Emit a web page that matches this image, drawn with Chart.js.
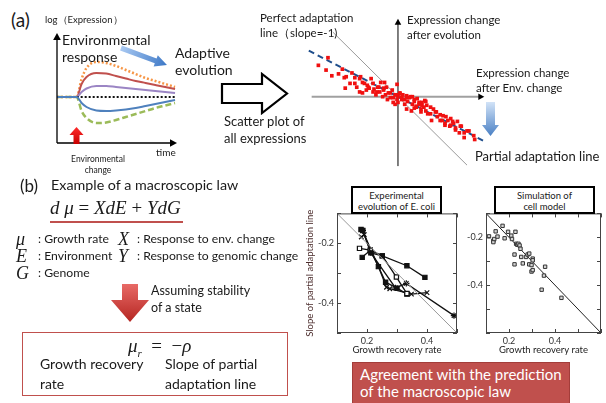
<!DOCTYPE html>
<html>
<head>
<meta charset="utf-8">
<script src="https://cdn.jsdelivr.net/npm/chart.js@4.4.1/dist/chart.umd.min.js"></script>
<style>
  html, body { margin: 0; padding: 0; background: #fff; }
  #page { position: relative; width: 606px; height: 403px; overflow: hidden; font-family: "Lato", "Liberation Sans", sans-serif; color: #1a1a1a; }
  #page canvas { position: absolute; }
  .t { position: absolute; white-space: pre; }
  .m { position: absolute; white-space: pre; font-family: "Liberation Serif", "DejaVu Serif", serif; font-style: italic; }
  .box { position: absolute; background: #fff; border: 2px solid #000; box-sizing: border-box; text-align: center; font-size: 9.5px; line-height: 11px; padding-top: 2px; z-index: 3; }
  svg { position: absolute; left: 0; top: 0; z-index: 2; pointer-events: none; }
</style>
</head>
<body>
<div id="page">
  <canvas id="expr" width="132" height="120" style="left:50px;top:28px"></canvas>
  <canvas id="scatter" width="195" height="162" style="left:300px;top:10px"></canvas>
  <canvas id="ecoli" width="165" height="155" style="left:300px;top:205px"></canvas>
  <canvas id="model" width="146" height="155" style="left:460px;top:205px"></canvas>

  <svg width="606" height="403">
    <defs>
      <linearGradient id="gBlue" x1="0" y1="0" x2="1" y2="0">
        <stop offset="0" stop-color="#a9c9f2"/><stop offset="1" stop-color="#3d78c6"/>
      </linearGradient>
      <linearGradient id="gBlueDown" x1="0" y1="0" x2="0" y2="1">
        <stop offset="0" stop-color="#d2e3f7"/><stop offset="1" stop-color="#4a80c4"/>
      </linearGradient>
      <linearGradient id="gRedUp" x1="0" y1="1" x2="0" y2="0">
        <stop offset="0" stop-color="#c80000"/><stop offset="1" stop-color="#ff2a2a"/>
      </linearGradient>
      <linearGradient id="gRedDown" x1="0" y1="0" x2="0" y2="1">
        <stop offset="0" stop-color="#e86a66"/><stop offset="1" stop-color="#b52622"/>
      </linearGradient>
    </defs>
    <!-- adaptive evolution arrow -->
    <g transform="translate(121,48) rotate(20.3)">
      <polygon points="0,-2.6 37,-2.6 37,-6 49,0 37,6 37,2.6 0,2.6" fill="url(#gBlue)"/>
    </g>
    <!-- environmental change arrow -->
    <polygon points="76.5,127 83.5,135 79.5,135 79.5,144 73.5,144 73.5,135 69.5,135" fill="url(#gRedUp)"/>
    <!-- big outline arrow -->
    <polygon points="222,84 262,84 262,74 287,93.5 262,113 262,103 222,103" fill="#fff" stroke="#000" stroke-width="2.2" stroke-linejoin="miter"/>
    <!-- blue down arrow -->
    <polygon points="486,102 495,102 495,125 499,125 490.5,136 482,125 486,125" fill="url(#gBlueDown)"/>
    <!-- red down arrow -->
    <polygon points="122,284 138,284 138,300 149,300 130,322 111,300 122,300" fill="url(#gRedDown)"/>
  </svg>

  <!-- (a) -->
  <div class="t" style="left:11px;top:8px;font-size:19px">(a)</div>
  <div class="t" style="left:45px;top:14px;font-size:9.5px">log（Expression）</div>
  <div class="t" style="left:62px;top:31px;font-size:14px;line-height:17px">Environmental
response</div>
  <div class="t" style="left:175px;top:44px;font-size:14px;line-height:17px">Adaptive
evolution</div>
  <div class="t" style="left:156px;top:146px;font-size:10px">time</div>
  <div class="t" style="left:62px;top:154px;width:72px;text-align:center;font-size:8.5px;line-height:11px">Environmental
change</div>
  <div class="t" style="left:224px;top:113px;width:66px;text-align:center;font-size:13px;line-height:17px">Scatter plot of
all expressions</div>
  <div class="t" style="left:260px;top:10px;font-size:11.5px;line-height:15px">Perfect adaptation
line（slope=-1)</div>
  <div class="t" style="left:407px;top:12px;font-size:11.5px;line-height:15px">Expression change
after evolution</div>
  <div class="t" style="left:476px;top:65px;font-size:11.5px;line-height:15px">Expression change
after Env. change</div>
  <div class="t" style="left:475px;top:148px;font-size:13px">Partial adaptation line</div>

  <!-- (b) -->
  <div class="t" style="left:20px;top:175px;font-size:17px">(b)</div>
  <div class="t" style="left:51px;top:176px;font-size:14.3px">Example of a macroscopic law</div>
  <div class="m" style="left:50px;top:197px;font-size:19px">d μ <span style="font-style:normal">=</span> XdE <span style="font-style:normal">+</span> YdG</div>
  <div style="position:absolute;left:50px;top:221px;width:133px;height:2px;background:#c0504d"></div>

  <div class="m" style="left:16px;top:229px;font-size:18px">μ</div>
  <div class="t" style="left:38px;top:231px;font-size:12.2px">: Growth rate</div>
  <div class="m" style="left:118px;top:229px;font-size:18px">X</div>
  <div class="t" style="left:137px;top:231px;font-size:12.2px">: Response to env. change</div>
  <div class="m" style="left:16px;top:246px;font-size:18px">E</div>
  <div class="t" style="left:38px;top:248px;font-size:12.2px">: Environment</div>
  <div class="m" style="left:118px;top:246px;font-size:18px">Y</div>
  <div class="t" style="left:137px;top:248px;font-size:12.2px">: Response to genomic change</div>
  <div class="m" style="left:16px;top:263px;font-size:18px">G</div>
  <div class="t" style="left:38px;top:265px;font-size:12.2px">: Genome</div>

  <div class="t" style="left:151px;top:283px;font-size:12.5px;line-height:16.5px">Assuming stability
of a state</div>

  <div style="position:absolute;left:22px;top:332px;width:266px;height:64px;border:1.5px solid #c0504d;box-sizing:border-box"></div>
  <div class="m" style="left:128px;top:335px;font-size:19px">μ<sub style="font-size:11px">r</sub>  <span style="font-style:normal">=</span>  <span style="font-style:normal">−</span>ρ</div>
  <div class="t" style="left:40px;top:354px;font-size:14px;line-height:20px">Growth recovery
rate</div>
  <div class="t" style="left:165px;top:354px;font-size:14px;line-height:20px">Slope of partial
adaptation line</div>

  <div class="box" style="left:351px;top:186px;width:91px;height:28px">Experimental<br>evolution of E. coli</div>
  <div class="box" style="left:494px;top:186px;width:101px;height:28px">Simulation of<br>cell model</div>

  <div style="position:absolute;left:352px;top:362px;width:218px;height:50px;background:#c0504d;border:1px solid #a33d3a;box-sizing:border-box"></div>
  <div class="t" style="left:360px;top:366px;font-size:15px;line-height:17px;color:#fff">Agreement with the prediction
of the macroscopic law</div>
</div>

<script>
// ---- (a) expression time courses ----
const timePoints = [0, 1, 2, 2.5, 3, 4, 5, 6, 7, 8, 9, 10, 11, 12];
const orangeExpr = [0, 0, 0, 1.8, 2.9, 3.5, 3.4, 3.1, 2.7, 2.3, 1.9, 1.6, 1.3, 1.0];
const redExpr = [0, 0, 0, 1.3, 2.0, 2.4, 2.35, 2.1, 1.85, 1.6, 1.4, 1.2, 1.0, 0.8];
const purpleExpr = [0, 0, 0, 0.5, 0.85, 1.1, 1.1, 1.0, 0.9, 0.8, 0.7, 0.6, 0.5, 0.4];
const baselineExpr = [null, null, 0, 0, 0, 0, 0, 0, 0, 0, 0, 0, 0, 0];
const blueExpr = [0, 0, 0, -0.6, -1.0, -1.35, -1.4, -1.35, -1.25, -1.1, -0.9, -0.7, -0.5, -0.3];
const greenExpr = [0, 0, 0, -1.4, -2.1, -2.6, -2.55, -2.3, -2.0, -1.7, -1.4, -1.1, -0.85, -0.6];

// ---- (a) scatter of all expressions (env. change vs evolution change) ----
const envChange = [-8.3, -7.3, -7.5, -6.9, -6.2, -5.8, -5.6, -5.4, -5.5, -5.0, -4.8, -4.5, -4.5, -4.3, -4.0, -3.9, -4.0, -3.7, -3.7, -3.5,
  -3.3, -3.2, -3.1, -3.0, -2.8, -2.6, -2.6, -2.5, -2.3, -2.2, -2.1, -2.0, -1.9, -1.8, -1.6, -1.5, -1.5, -1.4, -1.3, -1.2,
  -1.1, -1.0, -0.8, -0.8, -0.6, -0.5, -0.5, -0.3, -0.3, -0.1, -0.1, -0.1, 0.0, 0.0, 0.2, 0.2, 0.4, 0.4, 0.5, 0.7,
  0.7, 0.9, 0.9, 0.9, 1.0, 1.2, 1.3, 1.4, 1.5, 1.5, 1.7, 1.7, 1.7, 1.9, 1.9, 2.0, 2.2, 2.2, 2.4, 2.4,
  2.5, 2.5, 2.7, 2.8, 2.9, 2.9, 3.0, 3.1, 3.4, 3.4, 3.5, 3.7, 3.9, 4.0, 4.1, 4.4, 4.4, 4.6, 4.7, 4.9,
  4.9, 5.0, 5.2, 5.4, 5.5, 5.5, 5.7, 5.8, 6.0, 6.0, 6.2, 6.4, 6.5, 6.6, 6.9, 6.9, 7.2, 7.4, 7.9, 8.0];
const evoChange = [3.3, 4.1, 2.8, 2.2, 2.4, 2.9, 2.0, 2.1, 0.9, 1.4, 2.5, 2.0, 1.4, 1.0, 1.9, 2.1, 0.5, 1.5, 0.4, 1.4,
  0.7, 1.2, 1.0, 0.9, 1.9, 1.4, 0.5, 0.8, 0.2, 0.5, 1.0, 1.0, 0.5, 1.5, 0.0, 0.7, 0.9, 1.5, 0.2, 1.0,
  -0.3, 0.4, -0.1, 0.4, 0.7, -0.6, -0.1, 0.2, -0.8, 1.3, -0.3, 0.2, 0.0, -0.6, 0.3, 0.4, -0.3, -0.1, 0.2, -0.8,
  -0.3, -0.1, 0.1, -1.3, -0.5, -0.1, 0.0, -1.5, -0.8, 0.0, -0.3, -0.5, -1.2, -1.1, -1.0, -0.2, -0.6, -0.8, -1.3, -1.6,
  -0.9, -0.6, -1.1, -0.4, -0.5, -1.5, -0.9, -1.8, -1.1, -1.8, -2.5, -1.3, -1.6, -1.6, -2.1, -1.9, -2.5, -2.5, -2.0, -3.0,
  -2.8, -2.1, -2.5, -3.1, -2.3, -3.0, -2.6, -2.8, -3.5, -3.3, -2.6, -3.8, -3.1, -3.1, -4.3, -3.8, -3.6, -3.6, -4.1, -4.5];
const perfectSlope = -1;
const perfectRange = [-6.8, 7.2];
const partialSlope = -0.52;
const partialRange = [-9.3, 9.0];

// ---- (b) experimental evolution of E. coli: growth recovery rate vs slope ----
const ecoliA_x = [0.180, 0.186, 0.213, 0.251, 0.333, 0.393];
const ecoliA_y = [-0.154, -0.157, -0.232, -0.242, -0.275, -0.314];
const ecoliB_x = [0.175, 0.211, 0.251, 0.298, 0.333];
const ecoliB_y = [-0.217, -0.223, -0.242, -0.313, -0.368];
const ecoliC_x = [0.181, 0.191, 0.238, 0.265, 0.276, 0.348, 0.400];
const ecoliC_y = [-0.179, -0.171, -0.278, -0.347, -0.352, -0.370, -0.365];
const ecoliD_x = [0.186, 0.213, 0.295, 0.331, 0.490];
const ecoliD_y = [-0.157, -0.232, -0.349, -0.334, -0.442];
const ecoliE_x = [0.184, 0.211, 0.238, 0.262, 0.300, 0.333];
const ecoliE_y = [-0.247, -0.223, -0.278, -0.330, -0.350, -0.370];

// ---- (b) simulation of cell model ----
const modelX = [0.113, 0.132, 0.132, 0.136, 0.142, 0.150, 0.172, 0.181, 0.196, 0.210, 0.213, 0.228, 0.231, 0.236, 0.241, 0.246, 0.250,
  0.224, 0.224, 0.253, 0.260, 0.274, 0.281, 0.288, 0.288, 0.303, 0.303, 0.298, 0.298, 0.303, 0.357, 0.352, 0.342, 0.428];
const modelY = [-0.196, -0.214, -0.220, -0.207, -0.175, -0.197, -0.152, -0.204, -0.177, -0.193, -0.207, -0.177, -0.227, -0.231, -0.227, -0.234, -0.248,
  -0.272, -0.313, -0.282, -0.309, -0.282, -0.272, -0.268, -0.313, -0.289, -0.296, -0.316, -0.343, -0.337, -0.323, -0.360, -0.419, -0.453];

const labelTicksX = [0.2, 0.4];
const labelTicksY = [-0.2, -0.4];

Chart.defaults.font.family = "Lato, 'Liberation Sans', sans-serif";
Chart.defaults.color = "#333";

function pairs(xs, ys) {
  return xs.map((x, i) => ({ x: x, y: ys[i] }));
}
function lineThrough(slope, range) {
  return range.map((x) => ({ x: x, y: slope * x }));
}
function arrowHead(ctx, x, y, dir, size) {
  // dir: "up" or "right"
  ctx.beginPath();
  if (dir === "up") {
    ctx.moveTo(x, y);
    ctx.lineTo(x - size * 0.55, y + size);
    ctx.lineTo(x + size * 0.55, y + size);
  } else {
    ctx.moveTo(x, y);
    ctx.lineTo(x - size, y - size * 0.55);
    ctx.lineTo(x - size, y + size * 0.55);
  }
  ctx.closePath();
  ctx.fill();
}

// (a) time course chart
new Chart(document.getElementById("expr"), {
  type: "line",
  data: {
    datasets: [
      { data: pairs(timePoints, blueExpr), borderColor: "#4f81bd", borderWidth: 2 },
      { data: pairs(timePoints, baselineExpr), borderColor: "#111", borderWidth: 2, borderDash: [2, 2] },
      { data: pairs(timePoints, purpleExpr), borderColor: "#9b85c4", borderWidth: 2 },
      { data: pairs(timePoints, redExpr), borderColor: "#c0504d", borderWidth: 2 },
      { data: pairs(timePoints, orangeExpr), borderColor: "#f79646", borderWidth: 2.5, borderDash: [2, 2] },
      { data: pairs(timePoints, greenExpr), borderColor: "#9bbb59", borderWidth: 2.5, borderDash: [6, 3] },
    ],
  },
  options: {
    responsive: false,
    animation: false,
    devicePixelRatio: 1,
    layout: { padding: { left: 7, top: 5, right: 5, bottom: 5 } },
    elements: { point: { radius: 0 }, line: { cubicInterpolationMode: "monotone" } },
    scales: {
      x: { type: "linear", min: 0, max: 12.2, display: false },
      y: { min: -4.6, max: 6.4, display: false },
    },
    plugins: { legend: { display: false }, tooltip: { enabled: false } },
  },
  plugins: [
    {
      id: "arrow_axes",
      afterDraw(chart) {
        const { ctx, chartArea: a, scales } = chart;
        ctx.save();
        ctx.strokeStyle = "#000";
        ctx.fillStyle = "#000";
        ctx.lineWidth = 1.3;
        ctx.beginPath();
        ctx.moveTo(a.left, a.bottom);
        ctx.lineTo(a.left, a.top + 6);
        ctx.moveTo(a.left, a.bottom);
        ctx.lineTo(a.right - 6, a.bottom);
        ctx.stroke();
        arrowHead(ctx, a.left, a.top, "up", 7);
        arrowHead(ctx, a.right, a.bottom, "right", 7);
        ctx.font = "12px Lato";
        ctx.textAlign = "right";
        ctx.textBaseline = "middle";
        ctx.fillText("0", a.left - 12, scales.y.getPixelForValue(0));
        ctx.restore();
      },
    },
  ],
});

// (a) scatter plot of all expressions
new Chart(document.getElementById("scatter"), {
  type: "scatter",
  data: {
    datasets: [
      {
        data: pairs(envChange, evoChange),
        pointStyle: "rect",
        pointRadius: 2.6,
        pointBackgroundColor: "#f01010",
        pointBorderWidth: 0,
      },
      {
        type: "line",
        data: lineThrough(partialSlope, partialRange),
        borderColor: "#1f4e8c",
        borderWidth: 2,
        borderDash: [6, 4],
        pointRadius: 0,
      },
      {
        type: "line",
        data: lineThrough(perfectSlope, perfectRange),
        borderColor: "#9a9a9a",
        borderWidth: 1,
        pointRadius: 0,
      },
    ],
  },
  options: {
    responsive: false,
    animation: false,
    devicePixelRatio: 1,
    layout: { padding: 0 },
    scales: {
      x: { type: "linear", min: -9.8, max: 9.7, display: false },
      y: { min: -7.5, max: 8.7, display: false },
    },
    plugins: { legend: { display: false }, tooltip: { enabled: false } },
  },
  plugins: [
    {
      id: "cross_axes",
      beforeDatasetsDraw(chart) {
        const { ctx, scales } = chart;
        const x0 = scales.x.getPixelForValue(0);
        const y0 = scales.y.getPixelForValue(0);
        ctx.save();
        // horizontal axis (grey)
        ctx.strokeStyle = "#a0a0a0";
        ctx.lineWidth = 2;
        ctx.beginPath();
        ctx.moveTo(scales.x.getPixelForValue(-9), y0);
        ctx.lineTo(scales.x.getPixelForValue(9) - 5, y0);
        ctx.stroke();
        // vertical axis (black)
        ctx.strokeStyle = "#000";
        ctx.lineWidth = 1;
        ctx.beginPath();
        ctx.moveTo(x0, scales.y.getPixelForValue(-7.3));
        ctx.lineTo(x0, scales.y.getPixelForValue(8.2) + 5);
        ctx.stroke();
        ctx.fillStyle = "#000";
        arrowHead(ctx, scales.x.getPixelForValue(9), y0, "right", 6);
        arrowHead(ctx, x0, scales.y.getPixelForValue(8.2), "up", 6);
        ctx.restore();
      },
    },
  ],
});

// frame with inward tick marks on all four sides
const frameTicks = {
  id: "frame_ticks",
  afterDraw(chart) {
    const { ctx, chartArea: a, scales } = chart;
    ctx.save();
    ctx.strokeStyle = "#444";
    ctx.lineWidth = 1;
    ctx.strokeRect(a.left + 0.5, a.top + 0.5, a.width - 1, a.height - 1);
    ctx.beginPath();
    scales.x.ticks.forEach((t) => {
      const p = Math.round(scales.x.getPixelForValue(t.value)) + 0.5;
      ctx.moveTo(p, a.bottom);
      ctx.lineTo(p, a.bottom - 4);
      ctx.moveTo(p, a.top);
      ctx.lineTo(p, a.top + 4);
    });
    scales.y.ticks.forEach((t) => {
      const p = Math.round(scales.y.getPixelForValue(t.value)) + 0.5;
      ctx.moveTo(a.left, p);
      ctx.lineTo(a.left + 4, p);
      ctx.moveTo(a.right, p);
      ctx.lineTo(a.right - 4, p);
    });
    ctx.stroke();
    ctx.restore();
  },
};

function labelOnly(list) {
  return function (value) {
    const hit = list.find((v) => Math.abs(v - value) < 1e-6);
    return hit === undefined ? "" : String(hit);
  };
}

function panelScales(xMin, xMax, yMin, yMax, yWidth, yTitle) {
  return {
    x: {
      type: "linear",
      min: xMin,
      max: xMax,
      grid: { display: false, drawTicks: false },
      border: { display: false },
      ticks: { stepSize: 0.1, autoSkip: false, maxRotation: 0, padding: 3, font: { size: 9 }, callback: labelOnly(labelTicksX) },
      title: { display: true, text: "Growth recovery rate", font: { size: 9.5 }, color: "#222", padding: { top: 2, bottom: 4 } },
      afterFit(scale) { scale.height = 27; },
    },
    y: {
      min: yMin,
      max: yMax,
      grid: { display: false, drawTicks: false },
      border: { display: false },
      ticks: { stepSize: 0.1, autoSkip: false, padding: 3, font: { size: 9 }, callback: labelOnly(labelTicksY) },
      title: { display: yTitle !== "", text: yTitle, font: { size: 9.5 }, color: "#4a2b2b", padding: { top: 4, bottom: 2 } },
      afterFit(scale) { scale.width = yWidth; },
    },
  };
}

function trajectory(xs, ys, style, fill) {
  return {
    data: pairs(xs, ys),
    showLine: true,
    borderColor: "#111",
    borderWidth: 1.3,
    pointStyle: style,
    pointRadius: style === "rect" ? 3 : 3.2,
    pointBackgroundColor: fill,
    pointBorderColor: "#111",
    pointBorderWidth: 1.2,
  };
}

new Chart(document.getElementById("ecoli"), {
  type: "scatter",
  data: {
    datasets: [
      { type: "line", data: lineThrough(-1, [0.1, 0.5]), borderColor: "#999", borderWidth: 1, pointRadius: 0 },
      trajectory(ecoliA_x, ecoliA_y, "rect", "#111"),
      trajectory(ecoliB_x, ecoliB_y, "rect", "#fff"),
      trajectory(ecoliC_x, ecoliC_y, "crossRot", "#111"),
      trajectory(ecoliD_x, ecoliD_y, "star", "#111"),
      trajectory(ecoliE_x, ecoliE_y, "rect", "#111"),
    ],
  },
  options: {
    responsive: false,
    animation: false,
    devicePixelRatio: 1,
    layout: { padding: { top: 8, right: 8, left: 0, bottom: 0 } },
    scales: panelScales(0.1, 0.5, -0.5, -0.1, 37, "Slope of partial adaptation line"),
    plugins: { legend: { display: false }, tooltip: { enabled: false } },
  },
  plugins: [frameTicks],
});

new Chart(document.getElementById("model"), {
  type: "scatter",
  data: {
    datasets: [
      {
        data: pairs(modelX, modelY),
        pointStyle: "rect",
        pointRadius: 2.4,
        pointBackgroundColor: "#d4d4d4",
        pointBorderColor: "#333",
        pointBorderWidth: 1,
      },
      { type: "line", data: lineThrough(-1, [0.1, 0.6]), borderColor: "#222", borderWidth: 1, pointRadius: 0 },
    ],
  },
  options: {
    responsive: false,
    animation: false,
    devicePixelRatio: 1,
    layout: { padding: { top: 7, right: 1.5, left: 0, bottom: 0 } },
    scales: panelScales(0.1, 0.6, -0.6, -0.1, 26, ""),
    plugins: { legend: { display: false }, tooltip: { enabled: false } },
  },
  plugins: [frameTicks],
});
</script>
</body>
</html>
